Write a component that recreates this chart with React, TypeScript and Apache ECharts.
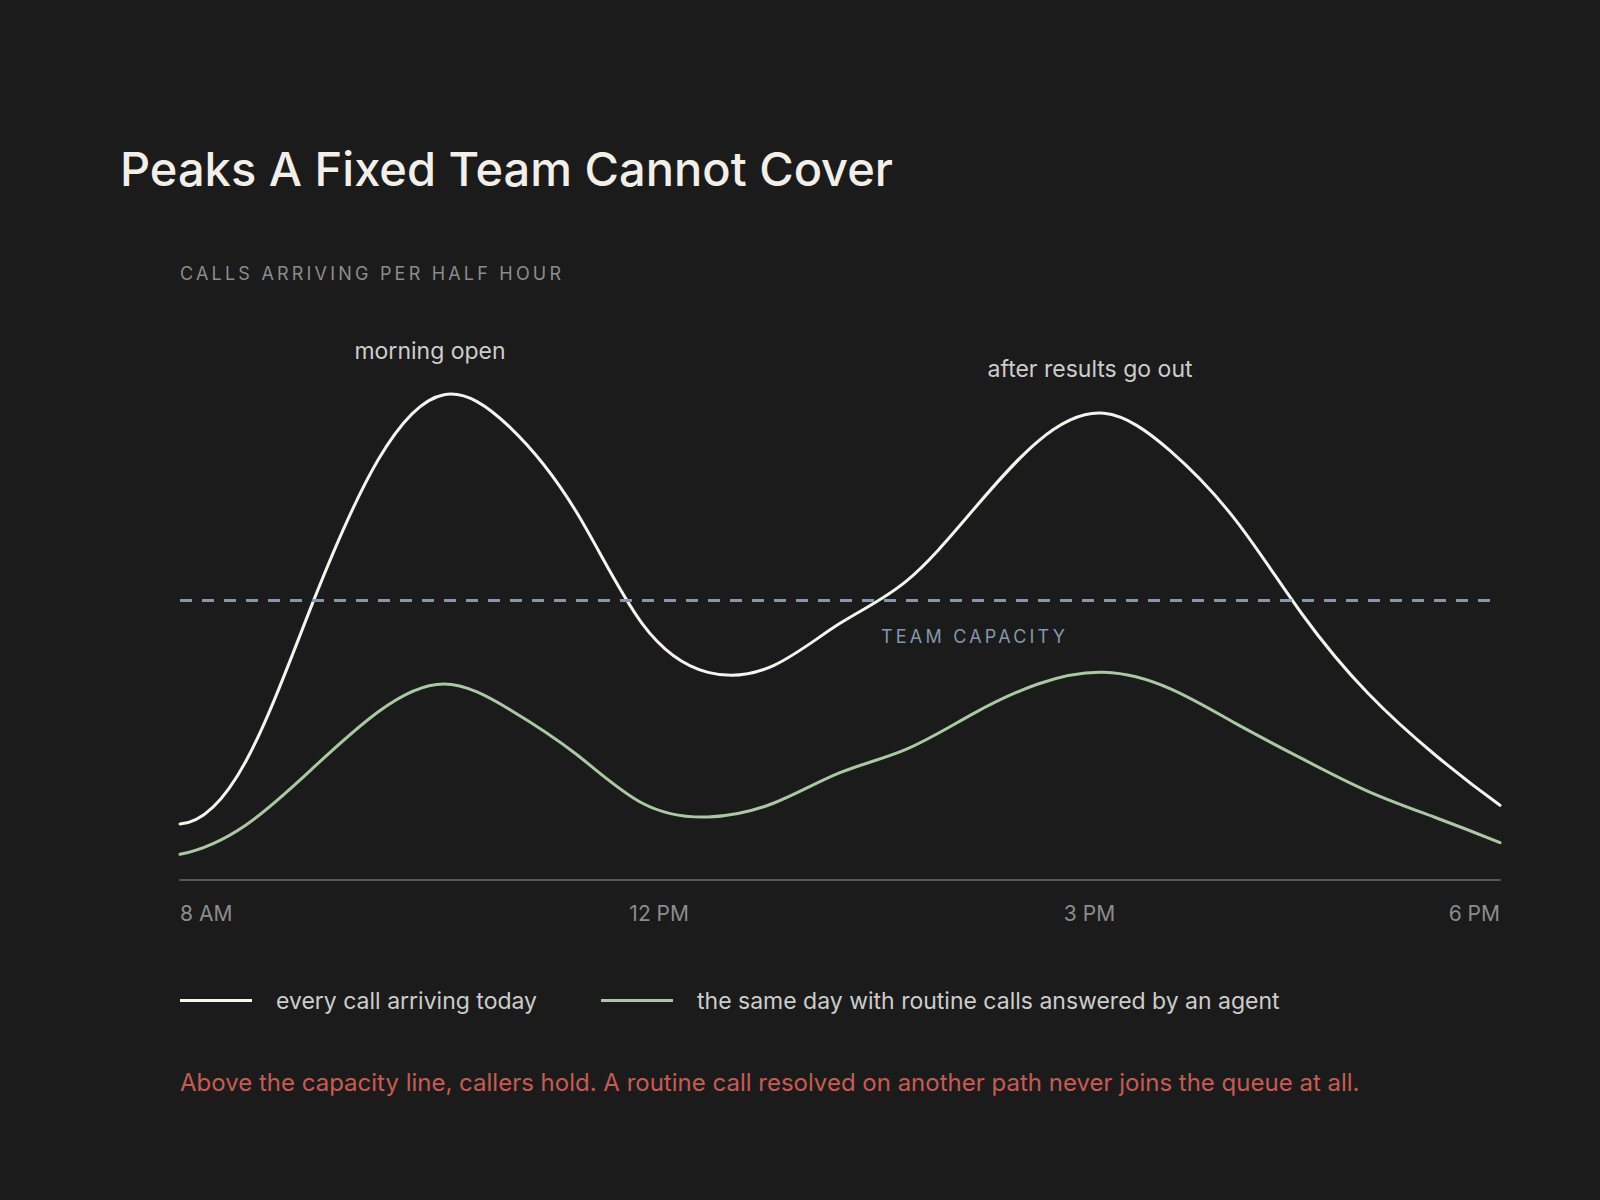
import React, { useEffect, useRef } from 'react';
import * as echarts from 'echarts';

// half-hour slots, 8 AM to 6 PM
const HOURS = [8, 8.5, 9, 9.5, 10, 10.5, 11, 11.5, 12, 12.5, 13, 13.5, 14, 14.5, 15, 15.5, 16, 16.5, 17, 17.5, 18];

// calls arriving per half hour
const ALL_CALLS = [12, 25.5, 59, 90, 104, 97, 79, 55, 44.5, 46, 55, 64, 79, 94, 100, 92, 77, 57, 40, 27, 16];
const WITH_AGENT = [5.5, 11.8, 23.8, 36, 42, 36.5, 27, 16.5, 13.5, 16.5, 23, 28, 35.5, 42, 44.5, 41, 33.5, 26, 19, 13.5, 8];

const CAPACITY = 60;

const TICK_LABELS = ['8 AM', '12 PM', '3 PM', '6 PM'];
const TICK_AT = [8, 11.63, 14.89, 18];

const SERIES_NAMES = [
  'every call arriving today',
  'the same day with routine calls answered by an agent',
];

const ANNOTATIONS = [
  { label: 'morning open', index: 4 },
  { label: 'after results go out', index: 14 },
];

const TITLE = 'Peaks A Fixed Team Cannot Cover';
const SUBTITLE = 'CALLS ARRIVING PER HALF HOUR';
const CAPACITY_LABEL = 'TEAM CAPACITY';
const FOOTNOTE =
  'Above the capacity line, callers hold. A routine call resolved on another path never joins the queue at all.';

const BG = '#1b1b1b';
const WHITE = '#f6f4ef';
const GREEN = '#a9c8a3';
const STEEL = '#8398ad';
const SOFT = '#cdcdcd';
const DIM = '#8c8c8c';
const FONT = 'Inter';
// marker family so the CSS rule below can add letter spacing to the caps labels
const TRACKED = 'Inter, Tracked';

// cubic spline through the pixel points (parabolic run-out at both ends),
// written as bezier segments
const curvePath = (pts: number[][]) => {
  const n = pts.length - 1;
  const x = pts.map((p) => p[0]);
  const y = pts.map((p) => p[1]);
  const h: number[] = [];
  for (let i = 0; i < n; i++) h.push(x[i + 1] - x[i]);

  const M = new Array(n + 1).fill(0);
  const cp: number[] = new Array(n + 1).fill(0);
  const dp: number[] = new Array(n + 1).fill(0);
  for (let i = 1; i < n; i++) {
    let a = h[i - 1];
    let b = 2 * (h[i - 1] + h[i]);
    let c = h[i];
    if (i === 1) {
      b += a;
      a = 0;
    }
    if (i === n - 1) {
      b += c;
      c = 0;
    }
    const r = 6 * ((y[i + 1] - y[i]) / h[i] - (y[i] - y[i - 1]) / h[i - 1]);
    const m = b - a * cp[i - 1];
    cp[i] = c / m;
    dp[i] = (r - a * dp[i - 1]) / m;
  }
  for (let i = n - 1; i >= 1; i--) M[i] = dp[i] - cp[i] * (i === n - 1 ? 0 : M[i + 1]);
  M[0] = M[1];
  M[n] = M[n - 1];

  let d = `M${x[0]},${y[0]}`;
  for (let i = 0; i < n; i++) {
    const s = (y[i + 1] - y[i]) / h[i];
    const d0 = s - (h[i] * (2 * M[i] + M[i + 1])) / 6;
    const d1 = s + (h[i] * (M[i] + 2 * M[i + 1])) / 6;
    const c1x = x[i] + h[i] / 3;
    const c1y = y[i] + (d0 * h[i]) / 3;
    const c2x = x[i + 1] - h[i] / 3;
    const c2y = y[i + 1] - (d1 * h[i]) / 3;
    d += ` C${c1x},${c1y} ${c2x},${c2y} ${x[i + 1]},${y[i + 1]}`;
  }
  return d;
};

const curveSeries = (name: string, values: number[], color: string, z: number) => ({
  name,
  type: 'custom',
  coordinateSystem: 'cartesian2d',
  clip: false,
  z,
  itemStyle: { color },
  encode: { x: 0, y: 1 },
  data: HOURS.map((h, i) => [h, values[i]]),
  renderItem: (params: any, api: any) => {
    if (params.dataIndex !== 0) return null;
    const pts = HOURS.map((h, i) => api.coord([h, values[i]]));
    return {
      type: 'path',
      shape: { pathData: curvePath(pts) },
      style: { fill: 'none', stroke: color, lineWidth: 3, lineCap: 'round', lineJoin: 'round' },
    };
  },
});

export default function App() {
  const chartRef = useRef<HTMLDivElement>(null);

  useEffect(() => {
    document.body.style.margin = '0';
    document.body.style.background = BG;
    if (!chartRef.current) return;

    const chart = echarts.init(chartRef.current, undefined, { renderer: 'svg' });

    const tickLabel = (v: number) => {
      let best = 0;
      TICK_AT.forEach((t, i) => {
        if (Math.abs(t - v) < Math.abs(TICK_AT[best] - v)) best = i;
      });
      return TICK_LABELS[best];
    };

    const allCalls: any = curveSeries(SERIES_NAMES[0], ALL_CALLS, WHITE, 3);
    allCalls.markLine = {
      silent: true,
      symbol: ['none', 'none'],
      lineStyle: { type: [12, 10], color: STEEL, width: 3 },
      label: {
        show: true,
        position: 'insideStartBottom',
        formatter: CAPACITY_LABEL,
        distance: [701, 27],
        color: STEEL,
        fontFamily: TRACKED,
        fontSize: 18,
      },
      data: [{ yAxis: CAPACITY }],
    };
    allCalls.markPoint = {
      silent: true,
      symbol: 'circle',
      symbolSize: 0,
      label: {
        show: true,
        position: 'inside',
        formatter: '{b}',
        offset: [-14, -44],
        align: 'center',
        verticalAlign: 'middle',
        color: SOFT,
        fontFamily: FONT,
        fontSize: 23,
      },
      data: ANNOTATIONS.map((a) => ({
        name: a.label,
        coord: [HOURS[a.index], ALL_CALLS[a.index]],
      })),
    };

    const option: any = {
      animation: false,
      backgroundColor: BG,
      title: [
        {
          text: TITLE,
          left: 120,
          top: 145,
          padding: 0,
          textStyle: { fontFamily: FONT, fontSize: 47, fontWeight: 500, color: '#f2efe9' },
        },
        {
          text: SUBTITLE,
          left: 180,
          top: 264,
          padding: 0,
          textStyle: { fontFamily: TRACKED, fontSize: 18, fontWeight: 400, color: DIM },
        },
        {
          text: FOOTNOTE,
          left: 180,
          top: 1070,
          padding: 0,
          textStyle: { fontFamily: FONT, fontSize: 24, fontWeight: 400, color: '#c75b53' },
        },
      ],
      legend: {
        left: 180,
        top: 989,
        padding: 0,
        icon: 'rect',
        itemWidth: 72,
        itemHeight: 3,
        itemGap: 64,
        selectedMode: false,
        data: SERIES_NAMES,
        textStyle: { color: SOFT, fontFamily: FONT, fontSize: 23, padding: [0, 0, 0, 19] },
      },
      grid: { left: 180, right: 100, top: 320, bottom: 320, containLabel: false, outerBoundsMode: 'none' },
      xAxis: {
        type: 'value',
        min: 8,
        max: 18,
        axisLine: { show: true, lineStyle: { color: '#575757', width: 2 } },
        axisTick: { show: false },
        splitLine: { show: false },
        axisLabel: {
          customValues: TICK_AT,
          formatter: tickLabel,
          alignMinLabel: 'left',
          alignMaxLabel: 'right',
          margin: 23,
          color: DIM,
          fontFamily: FONT,
          fontSize: 21,
        },
      },
      yAxis: { type: 'value', min: 0, max: 120, show: false },
      series: [allCalls, curveSeries(SERIES_NAMES[1], WITH_AGENT, GREEN, 2)],
    };

    chart.setOption(option);

    return () => {
      chart.dispose();
    };
  }, []);

  return (
    <>
      <style>{`text[style*="Tracked"] { letter-spacing: 3.2px; }`}</style>
      <div ref={chartRef} style={{ width: '1600px', height: '1200px' }} />
    </>
  );
}
